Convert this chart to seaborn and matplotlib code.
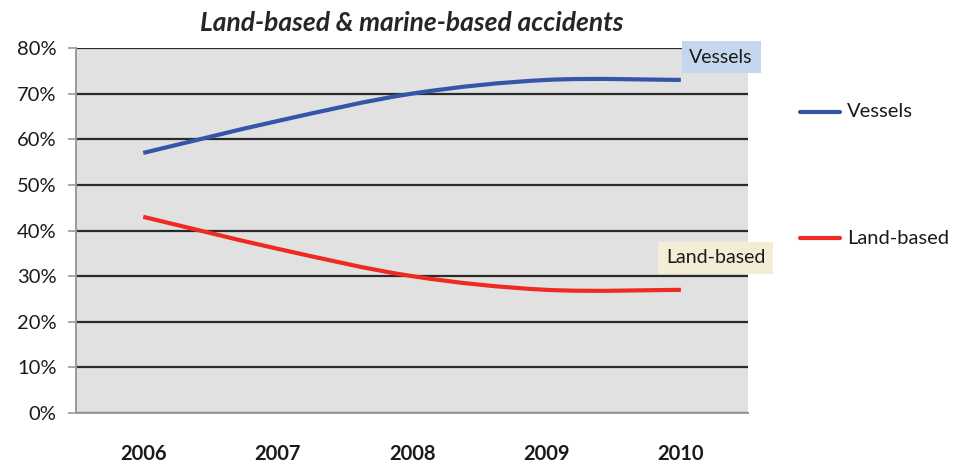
import numpy as np
import pandas as pd
import seaborn as sns
import matplotlib
matplotlib.use("Agg")
import matplotlib.pyplot as plt
from matplotlib.path import Path
from matplotlib.patches import PathPatch
from matplotlib.lines import Line2D

years = ["2006", "2007", "2008", "2009", "2010"]
vessels = [57, 64, 70, 73, 73]
land_based = [43, 36, 30, 27, 27]
y_ticks = [0, 10, 20, 30, 40, 50, 60, 70, 80]

sns.set_theme(style="white")
plt.rcParams["font.family"] = ["Lato", "DejaVu Sans"]

df = pd.DataFrame({"year": years * 2,
                   "pos": list(range(len(years))) * 2,
                   "share": vessels + land_based,
                   "series": ["Vessels"] * len(years) + ["Land-based"] * len(years)})
colors = {"Vessels": "#3556a8", "Land-based": "#ee2a22"}

fig = plt.figure(figsize=(9.65, 4.66), dpi=100)
ax = fig.add_axes([0.0788, 0.1137, 0.6964, 0.7833])
ax.set_facecolor("#e1e1e1")

sns.lineplot(data=df, x="pos", y="share", hue="series", palette=colors,
             ax=ax, legend=False, linewidth=3)


def smooth_path(xs, ys):
    # Excel-style smoothed line: cubic Bezier segments through every point
    pts = np.column_stack([xs, ys]).astype(float)
    ext = np.vstack([pts[0], pts, pts[-1]])
    verts = [tuple(pts[0])]
    codes = [Path.MOVETO]
    for i in range(len(pts) - 1):
        p0, p1, p2, p3 = ext[i], ext[i + 1], ext[i + 2], ext[i + 3]
        c1 = p1 + (p2 - p0) / 6.0
        c2 = p2 - (p3 - p1) / 6.0
        verts += [tuple(c1), tuple(c2), tuple(p2)]
        codes += [Path.CURVE4] * 3
    return Path(verts, codes)


# swap the straight polylines for smoothed curves through the same points
for line in list(ax.lines):
    xs, ys = line.get_xdata(), line.get_ydata()
    col = line.get_color()
    line.set_visible(False)
    ax.add_patch(PathPatch(smooth_path(xs, ys), facecolor="none",
                           edgecolor=col, linewidth=3, capstyle="butt",
                           zorder=4))

ax.set_xlim(-0.5, len(years) - 0.5)
ax.set_ylim(0, 80)
ax.set_yticks(y_ticks)
ax.set_yticklabels([f"{v}%" for v in y_ticks], fontsize=14.5, color="#1a1a1a")
ax.yaxis.grid(True, color="#2a2a2a", linewidth=1.6)
ax.set_axisbelow(True)

# category labels centred, tick marks on the category boundaries
ax.set_xticks(range(len(years)))
ax.set_xticklabels(years, fontsize=14.5, color="#1a1a1a", fontweight="bold")
ax.tick_params(axis="x", which="major", length=0, pad=22)
ax.set_xticks(np.arange(-0.5, len(years)), minor=True)
ax.tick_params(axis="x", which="minor", length=6, width=1.2, color="#9a9a9a",
               direction="out")
ax.tick_params(axis="y", length=6, width=1.2, color="#9a9a9a",
               direction="out", left=True, pad=8)
ax.set_xlabel("")
ax.set_ylabel("")

for side in ["top", "right"]:
    ax.spines[side].set_visible(False)
for side in ["left", "bottom"]:
    ax.spines[side].set_color("#9a9a9a")
    ax.spines[side].set_linewidth(1.4)

ax.set_title("Land-based & marine-based accidents", fontsize=19,
             fontweight="bold", fontstyle="italic", pad=12)

# data labels on the last points
ax.annotate("Vessels", xy=(4, vessels[-1]), xytext=(4.30, 78.0),
            fontsize=14, ha="center", va="center", color="#1a1a1a",
            bbox=dict(boxstyle="square,pad=0.4", fc="#c5d7ef", ec="none"),
            zorder=6)
ax.annotate("Land-based", xy=(4, land_based[-1]), xytext=(4.26, 34.0),
            fontsize=14, ha="center", va="center", color="#1a1a1a",
            bbox=dict(boxstyle="square,pad=0.4", fc="#f4edd6", ec="none"),
            zorder=6, annotation_clip=False)
for t in ax.texts:
    t.set_clip_on(False)

# legend to the right with wide spacing
for label, ypos in [("Vessels", 0.760), ("Land-based", 0.489)]:
    fig.add_artist(Line2D([0.829, 0.870], [ypos, ypos], color=colors[label],
                          linewidth=3, transform=fig.transFigure))
    fig.text(0.878, ypos, label, fontsize=14.5, va="center", ha="left",
             color="#1a1a1a")

fig.savefig("out.png", dpi=100)
